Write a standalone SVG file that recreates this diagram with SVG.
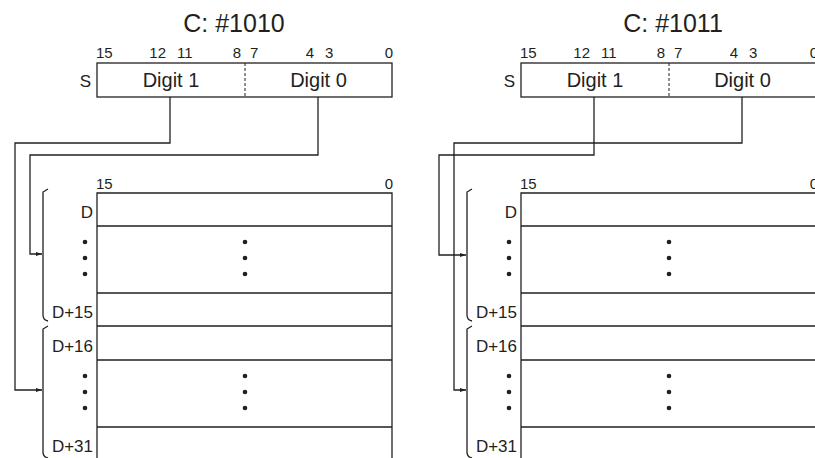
<svg xmlns="http://www.w3.org/2000/svg" width="815" height="458" viewBox="0 0 815 458">
<defs>
<style>
.ln{fill:none;stroke:#231f20;stroke-width:1.3}
.dash{fill:none;stroke:#231f20;stroke-width:1;stroke-dasharray:3,2}
text{font-family:"Liberation Sans",Arial,sans-serif;fill:#231f20}
.title{font-size:25px;text-anchor:middle}
.bit{font-size:15px}
.dig{font-size:20px;text-anchor:middle}
.lab{font-size:17px;text-anchor:end}
.dot{fill:#231f20}
</style>
<marker id="arr" viewBox="0 0 6 4" refX="6" refY="2" markerWidth="6" markerHeight="4" markerUnits="userSpaceOnUse" orient="auto">
<path d="M0,0 L6,2 L0,4 Z" fill="#231f20"/>
</marker>
<g id="dots3">
<circle class="dot" cx="0" cy="0" r="2.3"/>
<circle class="dot" cx="0" cy="16" r="2.3"/>
<circle class="dot" cx="0" cy="32" r="2.3"/>
</g>
</defs>
<rect width="815" height="458" fill="#fff"/>

<!-- LEFT PANEL -->
<g id="left-source">
<text class="title" x="234" y="32">C: #1010</text>
<text class="bit" x="96" y="58">15</text>
<text class="bit" x="166" y="58" text-anchor="end">12</text>
<text class="bit" x="177" y="58">11</text>
<text class="bit" x="241" y="58" text-anchor="end">8</text>
<text class="bit" x="250" y="58">7</text>
<text class="bit" x="314" y="58" text-anchor="end">4</text>
<text class="bit" x="325" y="58">3</text>
<text class="bit" x="393" y="58" text-anchor="end">0</text>
<text x="91" y="87" font-size="17" text-anchor="end">S</text>
<rect class="ln" x="97" y="63" width="295" height="34"/>
<line class="dash" x1="245" y1="63" x2="245" y2="97"/>
<text class="dig" x="171" y="87">Digit 1</text>
<text class="dig" x="318.5" y="87">Digit 0</text>
</g>
<g id="left-dest">
<text class="bit" x="96" y="189">15</text>
<text class="bit" x="393" y="189" text-anchor="end">0</text>
<path class="ln" d="M97,458 V193 H392 V458 M97,226 H392 M97,293 H392 M97,326 H392 M97,360 H392 M97,427 H392"/>
<text class="lab" x="93" y="218">D</text>
<use href="#dots3" x="85" y="242"/>
<use href="#dots3" x="245" y="242"/>
<text class="lab" x="93" y="318">D+15</text>
<text class="lab" x="93" y="352">D+16</text>
<use href="#dots3" x="85" y="376"/>
<use href="#dots3" x="245" y="376"/>
<text class="lab" x="93" y="452">D+31</text>
<path class="ln" d="M48,189 L43,192 V315 Q43,320 48,321 M48,326 L43,329 V452 Q43,457 48,458"/>
</g>

<!-- RIGHT PANEL -->
<g id="right-source">
<text class="title" x="673" y="32">C: #1011</text>
<text class="bit" x="520" y="58">15</text>
<text class="bit" x="590" y="58" text-anchor="end">12</text>
<text class="bit" x="601" y="58">11</text>
<text class="bit" x="665" y="58" text-anchor="end">8</text>
<text class="bit" x="674" y="58">7</text>
<text class="bit" x="738" y="58" text-anchor="end">4</text>
<text class="bit" x="749" y="58">3</text>
<text class="bit" x="818" y="58" text-anchor="end">0</text>
<text x="515" y="87" font-size="17" text-anchor="end">S</text>
<rect class="ln" x="521" y="63" width="295" height="34"/>
<line class="dash" x1="669" y1="63" x2="669" y2="97"/>
<text class="dig" x="595" y="87">Digit 1</text>
<text class="dig" x="742.5" y="87">Digit 0</text>
</g>
<g id="right-dest">
<text class="bit" x="520" y="189">15</text>
<text class="bit" x="818" y="189" text-anchor="end">0</text>
<path class="ln" d="M521,458 V193 H816 M521,226 H816 M521,293 H816 M521,326 H816 M521,360 H816 M521,427 H816"/>
<text class="lab" x="517" y="218">D</text>
<use href="#dots3" x="509" y="242"/>
<use href="#dots3" x="669" y="242"/>
<text class="lab" x="517" y="318">D+15</text>
<text class="lab" x="517" y="352">D+16</text>
<use href="#dots3" x="509" y="376"/>
<use href="#dots3" x="669" y="376"/>
<text class="lab" x="517" y="452">D+31</text>
<path class="ln" d="M472,189 L467,192 V315 Q467,320 472,321 M472,326 L467,329 V452 Q467,457 472,458"/>
</g>

<g id="connectors">
<path class="ln" marker-end="url(#arr)" d="M170,97 V143 H15 V390 H42"/>
<path class="ln" marker-end="url(#arr)" d="M318,97 V155 H30 V254 H42"/>
<path class="ln" marker-end="url(#arr)" d="M594,97 V155 H439 V255 H466"/>
<path class="ln" marker-end="url(#arr)" d="M742,97 V143 H454 V390 H466"/>
</g>
</svg>
